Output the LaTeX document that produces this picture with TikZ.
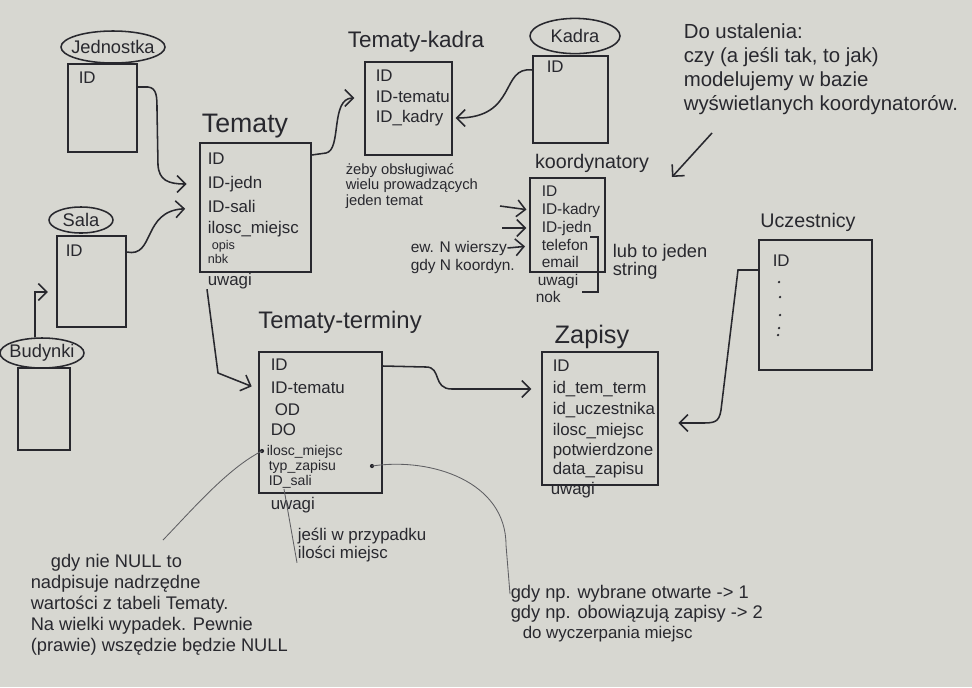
\documentclass[tikz,border=0pt]{standalone}
\usepackage{fontspec}
\setmainfont{Liberation Sans}
\usepackage{tikz}
\usetikzlibrary{shapes,arrows.meta,positioning,fit}

\definecolor{paper}{RGB}{215,215,209}
\definecolor{ink}{RGB}{40,40,46}
\newcommand{\hand}[2]{\fontsize{#1}{#2}\selectfont}

\begin{document}
\begin{tikzpicture}[x=0.025cm, y=-0.025cm, color=ink, line width=1.1pt,
        >={Straight Barb[length=6pt,width=12pt]},
        tbl/.style={draw, rectangle, inner sep=0pt},
        ent/.style={draw, ellipse, inner xsep=-4pt, inner ysep=0pt, font=\hand{13}{15}},
        row/.style={anchor=west, inner sep=0pt, text height=1.6ex, text depth=.4ex, font=\hand{12}{14}},
        small/.style={row, font=\hand{10}{11}},
        ttl/.style={inner sep=0pt, font=\hand{16}{18}},
        note/.style={anchor=north west, align=left, inner sep=0pt, font=\hand{12}{13}},
        thinline/.style={line width=0.6pt, color=ink!75}]
        \useasboundingbox (0,0) rectangle (972,687);
        \fill[paper] (0,0) rectangle (972,687);

        \node[ent, minimum width=2.6cm, minimum height=0.8cm] (jed) at (113,47) {Jednostka};
        \node[tbl, fit={(68,64) (137,152)}] (jed-box) {};
        \node[row] (jed-id) at (78,79) {ID};

        \node[ent, minimum width=1.6cm, minimum height=0.65cm] (sal) at (81,220) {Sala};
        \node[tbl, fit={(57,236) (126,327)}] (sal-box) {};
        \node[row] (sal-id) at (65,252) {ID};

        \node[ent, minimum width=2.1cm, minimum height=0.75cm] (bud) at (42,353) {Budynki};
        \node[tbl, fit={(18,368) (70,450)}] (bud-box) {};

        \node[ttl, font=\hand{19}{21}] (tem) at (245,126) {Tematy};
        \node[tbl, fit={(200,143) (311,272)}] (tem-box) {};
        \node[row] (tem-id) at (207,160) {ID};
        \node[row] (tem-jd) at (207,184) {ID-jedn};
        \node[row] (tem-sl) at (207,208) {ID-sali};
        \node[row] (tem-il) at (207,229) {ilosc\_miejsc};
        \node[small, font=\hand{9}{10}] (tem-op) at (211,245) {opis};
        \node[small, font=\hand{9}{10}] (tem-nb) at (207,259) {nbk};
        \node[row] (tem-uw) at (207,281) {uwagi};

        \node[ttl] (tk) at (416,42) {Tematy-kadra};
        \node[tbl, fit={(365,62) (452,155)}] (tk-box) {};
        \node[row] (tk-id) at (375,77) {ID};
        \node[row] (tk-tm) at (375,98) {ID-tematu};
        \node[row] (tk-kd) at (375,118) {ID\_kadry};
        \node[note, font=\hand{10.5}{9.5}] (tk-note) at (345,163) {żeby obsługiwać\\wielu prowadzących\\jeden temat};

        \node[ent, minimum width=2.25cm, minimum height=0.88cm] (kad) at (575,36) {Kadra};
        \node[tbl, fit={(533,56) (608,143)}] (kad-box) {};
        \node[row] (kad-id) at (546,68) {ID};

        \node[ttl, font=\hand{14}{16}] (koo) at (592,163) {koordynatory};
        \node[tbl, fit={(530,178) (605,272)}] (koo-box) {};
        \node[row, font=\hand{11}{13}] (koo-id) at (541,192) {ID};
        \node[row, font=\hand{11}{13}] (koo-kd) at (541,210) {ID-kadry};
        \node[row, font=\hand{11}{13}] (koo-jd) at (541,228) {ID-jedn};
        \node[row, font=\hand{11}{13}] (koo-tf) at (541,246) {telefon};
        \node[row, font=\hand{11}{13}] (koo-em) at (541,263) {email};
        \node[row, font=\hand{11}{13}] (koo-uw) at (537,281) {uwagi};
        \node[row, font=\hand{11}{13}] (koo-nk) at (535,298) {nok};
        \draw (590,237) -- (598,237) -- (598,292) -- (582,292);
        \node[note, font=\hand{13}{13}] (koo-str) at (612,243) {lub to jeden\\string};
        \node[row, font=\hand{11}{13}] (ew-1) at (410,248) {ew. N wierszy};
        \node[row, font=\hand{11}{13}] (ew-2) at (410,266) {gdy N koordyn.};
        \coordinate (koo-a1) at (500,206);
        \coordinate (koo-a2) at (502,228);

        \node[note, font=\hand{14.5}{17}] (ust) at (683,23) {Do ustalenia:\\czy (a jeśli tak, to jak)\\modelujemy w bazie\\wyświetlanych koordynatorów.};
        \coordinate (ust-tail) at (712,133);
        \coordinate (koo-tip) at (672,177);

        \node[ttl, font=\hand{14}{16}] (ucz) at (808,222) {Uczestnicy};
        \node[tbl, fit={(759,240) (872,370)}] (ucz-box) {};
        \node[row] (ucz-id) at (772,262) {ID};
        \fill (779,282) circle (0.9pt) (780,297) circle (0.9pt) (780,315) circle (0.9pt) (779,328) circle (0.9pt) (778,335) circle (0.9pt);

        \node[ttl, font=\hand{17}{19}] (tt) at (340,322) {Tematy-terminy};
        \node[tbl, fit={(259,352) (382,493)}] (tt-box) {};
        \node[row] (tt-id) at (270,366) {ID};
        \node[row] (tt-tm) at (270,389) {ID-tematu};
        \node[row] (tt-od) at (274,411) {OD};
        \node[row] (tt-do) at (270,431) {DO};
        \node[small] (tt-il) at (266,451) {ilosc\_miejsc};
        \node[small] (tt-tz) at (268,466) {typ\_zapisu};
        \node[small] (tt-sl) at (268,481) {ID\_sali};
        \node[row] (tt-uw) at (270,505) {uwagi};
        \coordinate (tt-dot1) at (262,451);
        \coordinate (tt-dot2) at (372,466);
        \coordinate (tt-dot3) at (284,489);
        \fill (tt-dot1) circle (1.5pt) (tt-dot2) circle (1.5pt);
        \node[note] (js) at (297,527) {jeśli w przypadku\\ilości miejsc};

        \node[ttl, font=\hand{18}{20}] (zap) at (592,337) {Zapisy};
        \node[tbl, fit={(542,352) (658,485)}] (zap-box) {};
        \node[row] (zap-id) at (552,367) {ID};
        \node[row] (zap-tt) at (552,389) {id\_tem\_term};
        \node[row] (zap-uc) at (552,410) {id\_uczestnika};
        \node[row] (zap-il) at (552,431) {ilosc\_miejsc};
        \node[row] (zap-pt) at (552,451) {potwierdzone};
        \node[row] (zap-dz) at (552,470) {data\_zapisu};
        \node[row] (zap-uw) at (550,490) {uwagi};

        \node[note, font=\hand{13}{15}] (bl) at (30,553) {\hspace{1.1em}gdy nie NULL to\\nadpisuje nadrzędne\\wartości z tabeli Tematy.\\Na wielki wypadek. Pewnie\\(prawie) wszędzie będzie NULL};
        \coordinate (bl-end) at (163,540);
        \node[row, font=\hand{13}{15}] (br-1) at (510,594) {gdy np. wybrane otwarte -> 1};
        \node[row, font=\hand{13}{15}] (br-2) at (510,614) {gdy np. obowiązują zapisy -> 2};
        \node[row, font=\hand{12}{14}] (br-3) at (522,634) {do wyczerpania miejsc};

        \draw[->, shorten >=9pt] (jed-box.east |- 0,87) -- (148,87) .. controls (157,88) and (157,97) .. (157,110) -- (158,165) .. controls (159,180) and (168,184) .. (tem-box.west |- tem-jd);
        \draw[->, shorten >=10pt] (sal-box.east |- sal-id) .. controls (155,258) and (142,211) .. (tem-box.west |- tem-sl);
        \draw[->, shorten >=6pt] (bud.115) |- (sal-box.west |- 0,292);
        \draw[->, shorten >=7pt] (tem-box.east |- 0,155) -- (326,153) .. controls (342,150) and (330,98) .. (tk-box.west |- tk-tm);
        \draw[->, shorten >=2pt] (kad-box.west |- 0,70) .. controls (500,66) and (518,118) .. (tk-box.east |- tk-kd);
        \draw[->, shorten >=5pt] (tem-uw.south west) -- (218,373) -- (tt-box.west |- tt-tm);
        \draw[->, shorten >=7pt] (tt-box.east |- tt-id) -- (426,367) .. controls (442,367) and (432,389) .. (452,389) -- (zap-box.west |- zap-tt);
        \draw[->, shorten >=14pt] (ucz-box.west |- 0,270) -- (738,270) -- (721,410) .. controls (719,423) and (714,423) .. (700,423) -- (zap-box.east |- 0,423);
        \draw[->, shorten >=2pt] (koo-a1) -- (koo-box.west |- koo-kd);
        \draw[->, shorten >=2pt] (koo-a2) -- (koo-box.west |- koo-jd);
        \draw[->, shorten >=3pt] (ew-1.east) -- (koo-box.west |- koo-tf);
        \draw[->] (ust-tail) -- (koo-tip);
        \draw[thinline] (tt-dot1) .. controls (228,468) and (192,510) .. (bl-end);
        \draw[thinline] (tt-dot2) .. controls (432,457) and (506,482) .. (506,545) -- (br-1.west);
        \draw[thinline] (tt-dot3) -- (js.south west);
\end{tikzpicture}
\end{document}
